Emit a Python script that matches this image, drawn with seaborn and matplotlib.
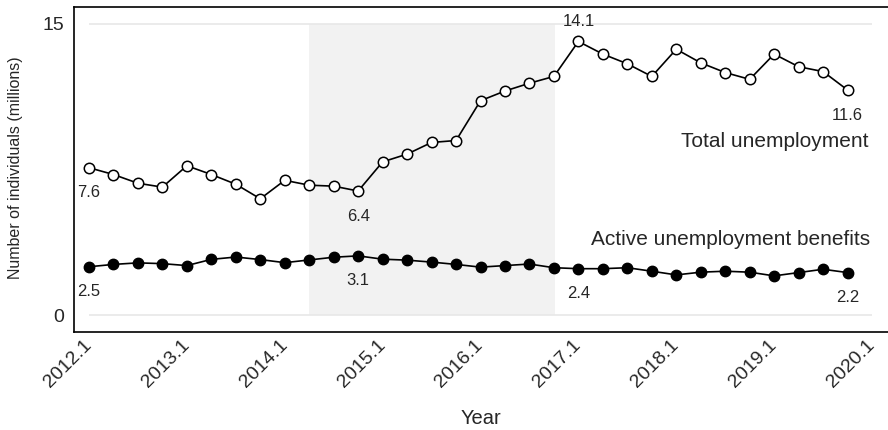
import numpy as np
import pandas as pd
import matplotlib
matplotlib.use("Agg")
import matplotlib.pyplot as plt
import seaborn as sns

# ---- data ----
years = [2012, 2013, 2014, 2015, 2016, 2017, 2018, 2019]
quarters = [1, 2, 3, 4]
total_unemployment = [7.6, 7.25, 6.8, 6.6, 7.7, 7.25, 6.75, 6.0,
                      6.95, 6.7, 6.65, 6.4, 7.9, 8.3, 8.9, 9.0,
                      11.05, 11.55, 11.95, 12.3, 14.1, 13.45, 12.95, 12.3,
                      13.7, 13.0, 12.5, 12.15, 13.45, 12.8, 12.55, 11.6]
active_benefits = [2.5, 2.62, 2.7, 2.66, 2.56, 2.88, 3.0, 2.87,
                   2.71, 2.85, 2.99, 3.06, 2.89, 2.84, 2.74, 2.62,
                   2.48, 2.56, 2.64, 2.45, 2.4, 2.4, 2.45, 2.27,
                   2.08, 2.22, 2.27, 2.22, 2.03, 2.2, 2.37, 2.2]
xtick_years = [2012, 2013, 2014, 2015, 2016, 2017, 2018, 2019, 2020]
xtick_labels = [f"{y}.1" for y in xtick_years]
ytick_values = [0, 15]
shade_start, shade_end = 2014.25, 2016.76
total_label_idx = [(0, "below"), (11, "below"), (20, "above"), (31, "below")]
benefit_label_idx = [0, 11, 20, 31]

time = [y + (q - 1) / 4 for y in years for q in quarters]
df = pd.DataFrame({"time": time, "total": total_unemployment, "benefits": active_benefits})

sns.set_style("white")
plt.rcParams["font.family"] = ["Liberation Sans", "DejaVu Sans"]

fig = plt.figure(figsize=(8.88, 4.30), dpi=100)
ax = fig.add_axes([74 / 888, 1 - 332 / 430, 1 - 74 / 888, (332 - 7) / 430])

# shaded period and reference lines
ax.fill_between([shade_start, shade_end], 0, 15, color="#f2f2f2", lw=0, zorder=0)
ax.hlines(ytick_values, xtick_years[0], xtick_years[-1], color="#e8e8e8", lw=1.2, zorder=0.5)

sns.lineplot(data=df, x="time", y="total", ax=ax, color="black", lw=1.2,
             marker="o", markersize=7.5, markerfacecolor="white",
             markeredgecolor="black", markeredgewidth=1.1, zorder=3)
sns.lineplot(data=df, x="time", y="benefits", ax=ax, color="black", lw=1.2,
             marker="o", markersize=7.5, markerfacecolor="black",
             markeredgecolor="black", markeredgewidth=1.0, zorder=3)

for i, pos in total_label_idx:
    off = 14.5 if pos == "above" else -18
    ax.annotate(f"{total_unemployment[i]:.1f}", (time[i], total_unemployment[i]),
                xytext=(0, off), textcoords="offset points",
                ha="center", va="center", fontsize=12)
for i in benefit_label_idx:
    ax.annotate(f"{active_benefits[i]:.1f}", (time[i], active_benefits[i]),
                xytext=(0, -18), textcoords="offset points",
                ha="center", va="center", fontsize=12)

ax.text(2019.96, 8.94, "Total unemployment", ha="right", va="center", fontsize=15)
ax.text(2019.98, 3.91, "Active unemployment benefits", ha="right", va="center", fontsize=15)

ax.set_xlim(2011.847, 2020.163)
ax.set_ylim(-0.86, 15.875)
ax.set_xticks(xtick_years)
ax.set_xticklabels(xtick_labels, rotation=45, ha="right", va="center",
                   rotation_mode="anchor", fontsize=14)
ax.set_yticks(ytick_values)
ax.set_yticklabels([str(v) for v in ytick_values], fontsize=14)
ax.tick_params(axis="x", length=3.5, width=1, color="#888888", pad=4)
ax.tick_params(axis="y", length=5, width=1, color="#888888", pad=2)
ax.set_xlabel("")
ax.set_ylabel("")

for s in ["left", "bottom", "top"]:
    ax.spines[s].set_visible(True)
    ax.spines[s].set_color("black")
    ax.spines[s].set_linewidth(1.2)
ax.spines["right"].set_visible(False)

fig.text(481 / 888, 1 - 419 / 430, "Year", ha="center", va="center", fontsize=14.5)
fig.text(16 / 888, 1 - 168 / 430, "Number of individuals (millions)", rotation=90,
         ha="center", va="center", fontsize=11.5)

fig.savefig("out.png", dpi=100)
